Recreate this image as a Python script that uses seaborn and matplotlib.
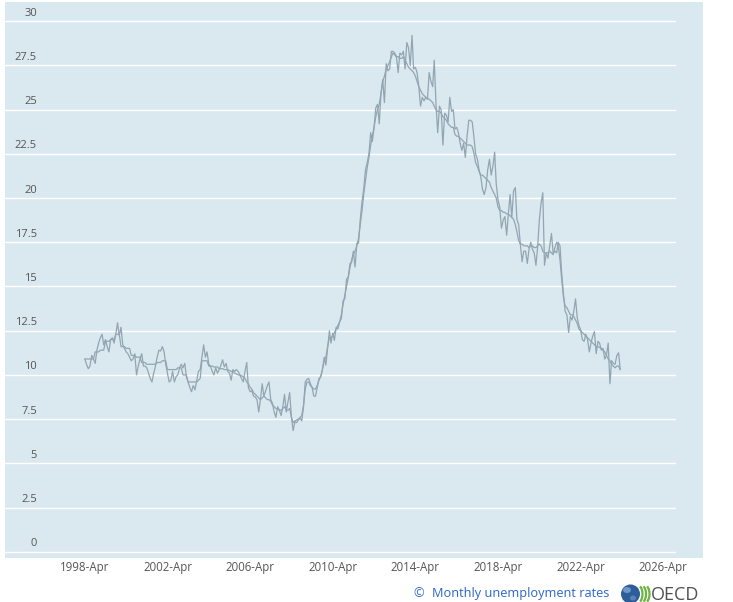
import numpy as np
import pandas as pd
import matplotlib
matplotlib.use("Agg")
import matplotlib.pyplot as plt
import matplotlib.dates as mdates
import matplotlib.transforms as mtransforms
from matplotlib.patches import Rectangle, Circle, Arc, Ellipse
import seaborn as sns

# ---------------- data ----------------
start_month = "1998-04-01"

series_a = [
    10.9, 10.9, 10.9, 10.9, 10.9, 10.9, 11.3, 11.3, 11.3, 11.4, 11.4, 11.4,
    11.9, 11.9, 11.9, 12.0, 12.0, 12.0, 12.3, 12.3, 12.3, 11.6, 11.6, 11.6,
    11.5, 11.5, 11.5, 11.1, 11.1, 11.1, 11.0, 11.0, 11.0, 10.7, 10.7, 10.7,
    10.6, 10.6, 10.6, 10.6, 10.6, 10.6, 10.7, 10.7, 10.7, 10.8, 10.8, 10.8,
    10.3, 10.3, 10.3, 10.3, 10.3, 10.3, 10.4, 10.4, 10.4, 10.0, 10.0, 10.0,
    9.6, 9.6, 9.6, 9.6, 9.6, 9.6, 9.7, 9.8, 10.8, 10.8, 10.8, 10.8,
    10.5, 10.5, 10.5, 10.45, 10.45, 10.45, 10.35, 10.35, 10.35, 10.3, 10.3, 10.3,
    10.25, 10.2, 10.2, 10.1, 10.05, 10.0, 10.0, 9.95, 9.9, 9.8, 9.6, 9.5,
    9.3, 9.2, 9.0, 8.9, 8.8, 8.7, 8.6, 8.7, 8.8, 8.7, 8.6, 8.6,
    8.5, 8.3, 8.2, 8.1, 8.1, 8.0, 8.0, 8.1, 8.2, 8.0, 8.0, 8.1,
    7.6, 7.3, 7.4, 7.45, 7.5, 7.6, 7.7, 8.3, 9.2, 9.6, 9.6, 9.4,
    9.3, 9.2, 9.2, 9.4, 9.7, 9.9, 10.3, 10.8, 11.0, 11.6, 12.1, 12.1,
    12.2, 12.4, 12.6, 12.8, 13.0, 13.4, 14.0, 14.5, 15.0, 15.5, 16.1, 16.5,
    16.8, 17.0, 17.3, 17.7, 18.5, 19.3, 20.2, 21.0, 21.7, 22.3, 23.0, 23.5,
    24.0, 24.6, 25.0, 25.3, 25.9, 26.6, 26.9, 27.3, 27.5, 27.7, 28.0, 28.2,
    28.1, 28.0, 28.0, 27.9, 27.9, 28.0, 27.8, 27.6, 27.4, 27.3, 27.2, 27.1,
    26.9, 26.6, 26.3, 26.1, 25.9, 25.8, 25.7, 25.6, 25.6, 25.5, 25.4, 25.2,
    25.0, 24.9, 24.9, 24.8, 24.6, 24.5, 24.4, 24.2, 24.1, 24.0, 24.0, 23.6,
    23.5, 23.5, 23.4, 23.3, 23.2, 23.1, 23.0, 23.0, 23.0, 22.9, 22.5, 22.0,
    21.8, 21.5, 21.3, 21.3, 21.2, 21.1, 21.0, 20.9, 20.6, 20.4, 20.2, 20.0,
    19.5, 19.3, 19.3, 19.2, 19.2, 19.1, 19.1, 19.0, 18.9, 18.8, 18.5, 18.1,
    17.6, 17.4, 17.4, 17.3, 17.3, 17.3, 17.2, 17.3, 17.3, 17.2, 17.2, 17.3,
    17.4, 17.3, 17.0, 16.9, 16.9, 16.9, 17.0, 16.9, 16.8, 17.2, 17.5, 17.3,
    16.5, 15.4, 14.4, 13.9, 13.8, 13.6, 13.4, 13.4, 13.3, 13.1, 12.9, 12.6,
    12.5, 12.4, 12.3, 12.2, 12.1, 12.0, 11.9, 11.8, 11.7, 11.6, 11.6, 11.55,
    11.5, 11.4, 11.3, 11.1, 10.9, 10.8, 10.6, 10.5, 10.4, 10.5, 10.5, 10.3,
]

series_b = [
    10.9, 10.6, 10.35, 10.5, 11.1, 10.9, 10.65, 11.4, 11.8, 12.1, 12.3, 11.7,
    12.0, 11.6, 11.3, 12.0, 12.1, 11.8, 12.3, 12.95, 12.2, 12.7, 11.7, 11.5,
    11.3, 11.2, 11.0, 10.8, 10.9, 11.2, 10.0, 10.5, 10.9, 11.2, 10.5, 10.5,
    10.4, 10.1, 9.8, 9.6, 10.1, 10.5, 11.0, 11.4, 11.35, 11.6, 11.3, 10.6,
    10.1, 9.6, 9.7, 10.2, 9.6, 9.9, 10.0, 10.4, 10.6, 10.4, 10.65, 9.9,
    9.6, 9.3, 9.05, 9.4, 9.15, 9.7, 10.2, 10.3, 11.0, 11.7, 11.0, 11.3,
    10.6, 10.5, 10.2, 10.0, 10.4, 10.1, 10.3, 10.55, 10.85, 10.45, 10.65, 10.2,
    10.1, 9.7, 10.3, 10.2, 10.3, 10.2, 10.0, 9.8, 9.6, 10.2, 10.7, 9.3,
    9.05, 9.1, 8.8, 8.75, 8.6, 7.9, 8.6, 9.5, 8.8, 9.1, 9.4, 9.6,
    8.6, 8.4, 7.9, 7.6, 8.2, 8.0, 7.7, 8.2, 8.9, 7.9, 8.5, 9.0,
    7.6, 6.85, 7.35, 7.3, 7.45, 7.55, 7.4, 8.2, 9.6, 9.75, 9.8, 9.5,
    9.3, 8.8, 8.8, 9.3, 9.8, 9.9, 10.3, 11.0, 10.55, 11.5, 12.5, 11.8,
    12.35, 11.95, 12.7, 12.6, 13.0, 13.2, 14.2, 14.3, 15.4, 15.55, 16.3, 16.35,
    17.0, 16.1, 17.45, 17.45, 18.8, 19.8, 20.5, 21.6, 22.0, 22.5, 23.7, 23.2,
    24.0, 25.1, 25.3, 24.2, 25.9, 26.7, 25.4, 27.6, 27.2, 27.3, 28.3, 28.3,
    28.2, 28.0, 27.1, 28.2, 28.1, 28.3, 27.3, 28.8, 28.5, 27.5, 29.2, 27.3,
    27.4, 27.1, 26.3, 25.2, 25.7, 25.5, 25.7, 25.6, 27.1, 26.6, 26.3, 27.8,
    25.3, 23.7, 25.2, 25.0, 23.0, 24.8, 24.7, 24.3, 25.7, 24.9, 25.0, 23.9,
    24.0, 23.7, 23.1, 22.7, 23.1, 22.3, 23.5, 24.4, 24.4, 24.3, 23.4, 22.5,
    22.2, 21.6, 21.2, 20.5, 20.2, 20.6, 21.6, 22.2, 21.3, 21.8, 22.6, 20.8,
    19.9, 19.5, 18.3, 18.75, 18.95, 17.9, 19.1, 20.2, 18.9, 20.4, 20.6, 18.8,
    18.5, 17.4, 16.4, 17.0, 17.0, 16.3, 17.1, 17.5, 17.1, 16.9, 16.2, 17.2,
    18.75, 19.7, 20.3, 16.2, 16.9, 16.6, 17.3, 18.0, 16.9, 17.0, 16.9, 17.5,
    17.3, 15.75, 14.6, 13.6, 13.4, 12.4, 13.3, 13.1, 13.6, 14.3, 13.2, 12.8,
    12.55, 12.0, 11.9, 12.3, 12.0, 11.3, 11.8, 12.2, 12.45, 11.2, 11.9, 11.8,
    11.4, 11.5, 10.9, 11.1, 11.8, 9.5, 10.8, 10.65, 10.6, 11.1, 11.25, 10.3,
]

series_names = ["Series A", "Series B"]

x_tick_labels = ["1998-Apr", "2002-Apr", "2006-Apr", "2010-Apr",
                 "2014-Apr", "2018-Apr", "2022-Apr", "2026-Apr"]
y_ticks = [0, 2.5, 5, 7.5, 10, 12.5, 15, 17.5, 20, 22.5, 25, 27.5, 30]
y_tick_labels = ["0", "2.5", "5", "7.5", "10", "12.5", "15", "17.5",
                 "20", "22.5", "25", "27.5", "30"]
footer_text = "Monthly unemployment rates"

# ---------------- style ----------------
W, H = 733, 602
BG = "#dae9f0"
LINE = "#92a5b1"
LABEL = "#555555"
BLUE = "#2a66c9"

sns.set_style("white")
plt.rcParams["font.family"] = ["Open Sans", "DejaVu Sans"]

fig = plt.figure(figsize=(W / 100, H / 100), dpi=100)
fig.patch.set_facecolor("white")

# panel background
fig.add_artist(Rectangle((5 / W, 1 - 558 / H), 698 / W, 556 / H,
                         transform=fig.transFigure, facecolor=BG,
                         edgecolor="none", zorder=-10))

ax = fig.add_axes([5 / W, 1 - 558 / H, 671 / W, 556 / H])
ax.set_facecolor(BG)

n = min(len(series_a), len(series_b))
dates = pd.date_range(start_month, periods=n, freq="MS")
df = pd.concat([
    pd.DataFrame({"date": dates, "value": series_a[:n], "series": series_names[0]}),
    pd.DataFrame({"date": dates, "value": series_b[:n], "series": series_names[1]}),
])
sns.lineplot(data=df, x="date", y="value", hue="series",
             palette=[LINE, LINE], legend=False, ax=ax,
             linewidth=0.9, estimator=None, zorder=3)

# axis ranges
ax.set_ylim(-0.356, 31.09)
tick_dates = [pd.to_datetime(t, format="%Y-%b") for t in x_tick_labels]
ax.set_xlim(mdates.date2num(pd.Timestamp("1994-05-21")),
            mdates.date2num(pd.Timestamp("2026-11-12")))

# y grid + labels inside
ax.set_yticks(y_ticks)
ax.grid(axis="y", color="white", linewidth=1.0)
ax.grid(axis="x", visible=False)
ax.set_axisbelow(True)
ax.tick_params(axis="y", length=0, labelleft=False)
blend = mtransforms.blended_transform_factory(ax.transAxes, ax.transData)
lab_trans = mtransforms.offset_copy(blend, fig=fig, y=8, units="dots")
for v, lab in zip(y_ticks, y_tick_labels):
    ax.text((37 - 5) / 671, v, lab, transform=lab_trans, ha="right",
            va="center", fontsize=8, color=LABEL)

# x ticks
ax.set_xticks(mdates.date2num(tick_dates))
ax.set_xticklabels(x_tick_labels)
minor_dates = pd.date_range(tick_dates[0], tick_dates[-1], freq="3MS")
ax.set_xticks(mdates.date2num(minor_dates), minor=True)
ax.tick_params(axis="x", which="major", direction="in", length=4.5,
               width=1.0, color="white", pad=2.0, labelsize=8.3,
               labelcolor=LABEL)
ax.tick_params(axis="x", which="minor", direction="in", length=2.0,
               width=1.1, color="white")
ax.set_xlabel("")
ax.set_ylabel("")
for s in ax.spines.values():
    s.set_visible(False)

# footer
fig.text(413 / W, 1 - 594 / H, "\u00a9", color=BLUE, fontsize=9.2,
         ha="left", va="center")
fig.text(431.5 / W, 1 - 594 / H, footer_text, color=BLUE, fontsize=9.2,
         ha="left", va="center")

# OECD logo (overlay in pixel coordinates)
ov = fig.add_axes([0, 0, 1, 1], zorder=10)
ov.set_xlim(0, W)
ov.set_ylim(H, 0)
ov.axis("off")
ov.add_patch(Circle((630.5, 594), 9.5, facecolor="#2e5d9a", edgecolor="none"))
ov.add_patch(Ellipse((627, 590), 8, 6, facecolor="#7fa6d3", edgecolor="none", alpha=0.8))
ov.add_patch(Ellipse((633, 598), 6, 5, facecolor="#6a93c4", edgecolor="none", alpha=0.7))
for cx in (638.0, 641.5, 645.0):
    ov.add_patch(Arc((cx, 594), 9, 17, theta1=-75, theta2=75,
                     color="#6cb33f", linewidth=1.6))
ov.text(651, 594.5, "OECD", color="#505050", fontsize=13, ha="left",
        va="center")

fig.savefig("out.png", dpi=100, facecolor="white")
